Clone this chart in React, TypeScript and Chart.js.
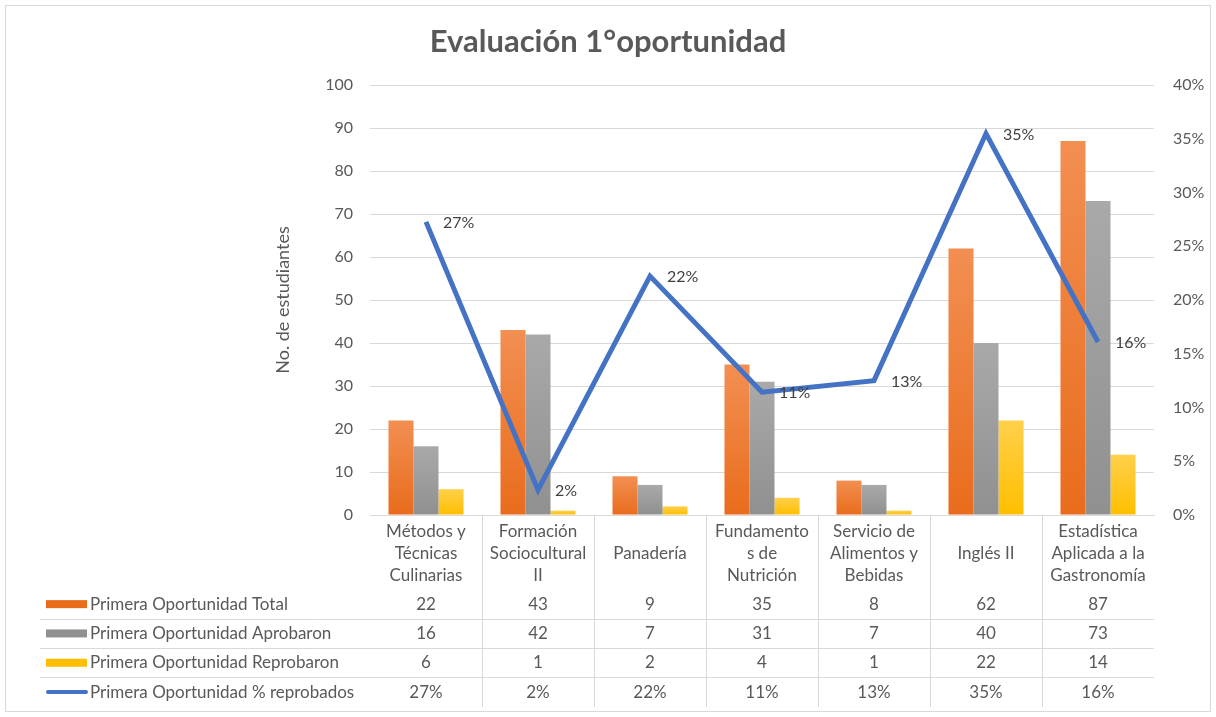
import React, { useEffect, useRef } from "react";
import { Chart, registerables } from "chart.js";

Chart.register(...registerables);

const chartTitle = "Evaluación 1°oportunidad";
const yAxisTitle = "No. de estudiantes";
const categories: string[][] = [
  ["Métodos y", "Técnicas", "Culinarias"],
  ["Formación", "Sociocultural", "II"],
  ["", "Panadería"],
  ["Fundamento", "s de", "Nutrición"],
  ["Servicio de", "Alimentos y", "Bebidas"],
  ["", "Inglés II"],
  ["Estadística", "Aplicada a la", "Gastronomía"],
];
const seriesNames = [
  "Primera Oportunidad Total",
  "Primera Oportunidad Aprobaron",
  "Primera Oportunidad Reprobaron",
  "Primera Oportunidad % reprobados",
];
const totalValues = [22, 43, 9, 35, 8, 62, 87];
const aprobaronValues = [16, 42, 7, 31, 7, 40, 73];
const reprobaronValues = [6, 1, 2, 4, 1, 22, 14];
const pctReprobados = [27.27, 2.33, 22.22, 11.43, 12.5, 35.48, 16.09];
const leftTickMin = 0;
const leftTickMax = 100;
const leftTickStep = 10;
const rightTickMin = 0;
const rightTickMax = 40;
const rightTickStep = 5;

const FONT = "Lato";
const TEXT = "#595959";
const GRID = "#D9D9D9";
const ORANGE: [string, string] = ["#F28F52", "#E96C1C"];
const GRAY: [string, string] = ["#A9A9A9", "#909090"];
const YELLOW: [string, string] = ["#FFD04A", "#FFBF00"];
const BLUE = "#4472C4";

function barGradient(colors: [string, string]) {
  return (c: any) => {
    const chart = c.chart;
    if (!chart.chartArea || c.type !== "data" || !chart.scales.y) return colors[1];
    const y = chart.scales.y;
    const yTop = y.getPixelForValue(c.raw);
    const yBase = y.getPixelForValue(0);
    if (!isFinite(yTop) || !isFinite(yBase) || yBase - yTop < 1) return colors[1];
    const g = chart.ctx.createLinearGradient(0, yTop, 0, yBase);
    g.addColorStop(0, colors[0]);
    g.addColorStop(1, colors[1]);
    return g;
  };
}

const fmtPct = (v: number) => Math.round(v) + "%";

const lineLabelPlugin = {
  id: "lineLabels",
  afterDatasetsDraw(chart: any) {
    const meta = chart.getDatasetMeta(3);
    const ctx = chart.ctx;
    ctx.save();
    ctx.font = `16px ${FONT}`;
    ctx.fillStyle = "#404040";
    ctx.textAlign = "left";
    ctx.textBaseline = "middle";
    meta.data.forEach((el: any, i: number) => {
      ctx.fillText(fmtPct(pctReprobados[i]), el.x + 17, el.y + 1);
    });
    ctx.restore();
  },
};

const tablePlugin = {
  id: "dataTable",
  afterDraw(chart: any) {
    const ctx = chart.ctx;
    const xs = chart.scales.x;
    const area = chart.chartArea;
    ctx.save();
    ctx.strokeStyle = GRID;
    ctx.lineWidth = 1;
    ctx.strokeRect(5.5, 5.5, 1205, 706);

    const n = categories.length;
    const half = (xs.getPixelForValue(1) - xs.getPixelForValue(0)) / 2;
    const rowTop = 589.5;
    const rowH = 29.3;
    const tableBottom = 707;

    ctx.beginPath();
    for (let i = 1; i < n; i++) {
      const px = Math.round(xs.getPixelForValue(i) - half) + 0.5;
      ctx.moveTo(px, area.bottom);
      ctx.lineTo(px, tableBottom);
    }
    for (let r = 1; r < 4; r++) {
      const py = Math.round(rowTop + r * rowH) + 0.5;
      ctx.moveTo(40, py);
      ctx.lineTo(area.right, py);
    }
    ctx.stroke();

    const rows: string[][] = [
      totalValues.map(String),
      aprobaronValues.map(String),
      reprobaronValues.map(String),
      pctReprobados.map(fmtPct),
    ];
    ctx.font = `17px ${FONT}`;
    ctx.fillStyle = TEXT;
    ctx.textBaseline = "middle";
    rows.forEach((vals, r) => {
      const cy = rowTop + r * rowH + rowH / 2;
      ctx.textAlign = "center";
      vals.forEach((v, i) => {
        ctx.fillText(v, xs.getPixelForValue(i), cy);
      });
      ctx.textAlign = "left";
      ctx.fillStyle = TEXT;
      ctx.fillText(seriesNames[r], 90, cy);
      if (r < 3) {
        const cols = [ORANGE, GRAY, YELLOW][r];
        ctx.fillStyle = cols[1];
        ctx.fillRect(46, cy - 4, 41, 8);
      } else {
        ctx.strokeStyle = BLUE;
        ctx.lineWidth = 4;
        ctx.lineCap = "round";
        ctx.beginPath();
        ctx.moveTo(48, cy);
        ctx.lineTo(86, cy);
        ctx.stroke();
      }
      ctx.fillStyle = TEXT;
    });
    ctx.restore();
  },
};

export default function App() {
  const ref = useRef<HTMLCanvasElement | null>(null);
  useEffect(() => {
    if (!ref.current) return;
    const chart = new Chart(ref.current, {
      type: "bar",
      data: {
        labels: categories,
        datasets: [
          {
            type: "bar",
            label: seriesNames[0],
            data: totalValues,
            backgroundColor: barGradient(ORANGE),
            yAxisID: "y",
            order: 1,
          },
          {
            type: "bar",
            label: seriesNames[1],
            data: aprobaronValues,
            backgroundColor: barGradient(GRAY),
            yAxisID: "y",
            order: 1,
          },
          {
            type: "bar",
            label: seriesNames[2],
            data: reprobaronValues,
            backgroundColor: barGradient(YELLOW),
            yAxisID: "y",
            order: 1,
          },
          {
            type: "line",
            label: seriesNames[3],
            data: pctReprobados,
            borderColor: BLUE,
            borderWidth: 5,
            pointRadius: 0,
            tension: 0,
            yAxisID: "y1",
            order: 0,
          } as any,
        ],
      },
      options: {
        responsive: false,
        animation: false,
        layout: { padding: 0 },
        datasets: { bar: { barPercentage: 1, categoryPercentage: 0.67 } },
        plugins: {
          legend: { display: false },
          tooltip: { enabled: false },
          title: {
            display: true,
            text: chartTitle,
            color: TEXT,
            font: { family: FONT, size: 31, weight: "bold", lineHeight: 1.2 },
            padding: { top: 23.4, bottom: 24.4 },
          },
        },
        scales: {
          x: {
            type: "category",
            grid: { display: false },
            border: { display: true, color: GRID },
            ticks: {
              color: TEXT,
              autoSkip: false,
              maxRotation: 0,
              minRotation: 0,
              padding: -2,
              font: { family: FONT, size: 17, lineHeight: 22 / 17 },
            },
            afterFit: (s: any) => {
              s.height = 202;
            },
          },
          y: {
            type: "linear",
            position: "left",
            min: leftTickMin,
            max: leftTickMax,
            ticks: {
              stepSize: leftTickStep,
              color: TEXT,
              padding: 17,
              font: { family: FONT, size: 16 },
            },
            grid: { color: GRID, drawTicks: false },
            border: { display: false },
            title: {
              display: true,
              text: yAxisTitle,
              color: TEXT,
              font: { family: FONT, size: 18, lineHeight: 1.2 },
              padding: { top: 272, bottom: 0 },
            },
            afterFit: (s: any) => {
              s.width = 370;
            },
          },
          y1: {
            type: "linear",
            position: "right",
            min: rightTickMin,
            max: rightTickMax,
            ticks: {
              stepSize: rightTickStep,
              color: TEXT,
              padding: 19,
              font: { family: FONT, size: 16 },
              callback: (v: any) => v + "%",
            },
            grid: { display: false, drawTicks: false },
            border: { display: false },
            afterFit: (s: any) => {
              s.width = 62;
            },
          },
        },
      },
      plugins: [lineLabelPlugin, tablePlugin],
    });
    return () => chart.destroy();
  }, []);
  return (
    <div
      style={{
        position: "fixed",
        left: 0,
        top: 0,
        width: 1216,
        height: 717,
        background: "#fff",
      }}
    >
      <canvas ref={ref} width={1216} height={717} style={{ width: 1216, height: 717 }} />
    </div>
  );
}
